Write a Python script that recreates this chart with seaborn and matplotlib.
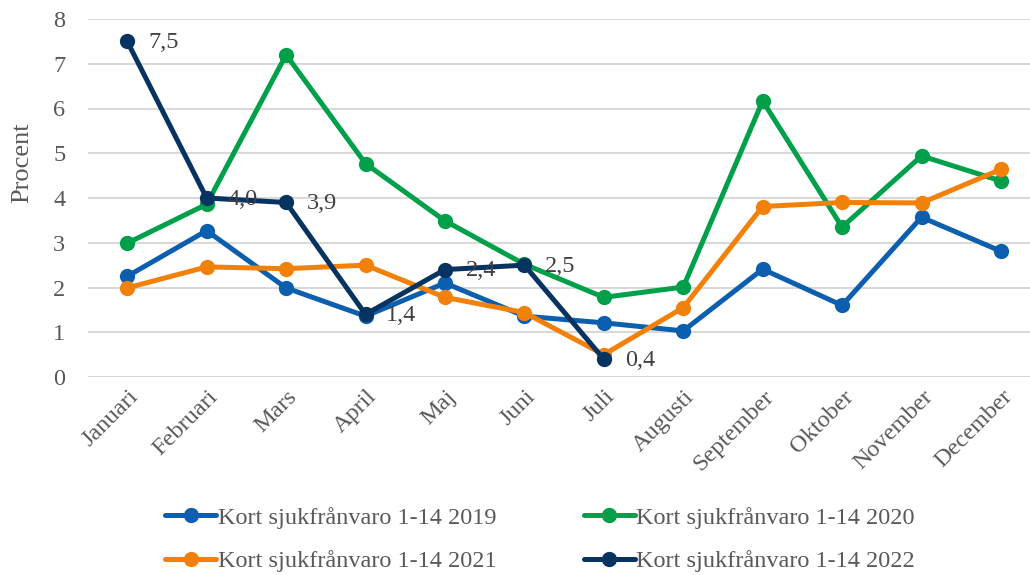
import numpy as np
import pandas as pd
import matplotlib
matplotlib.use("Agg")
import matplotlib.pyplot as plt
import seaborn as sns

months = ["Januari", "Februari", "Mars", "April", "Maj", "Juni", "Juli",
          "Augusti", "September", "Oktober", "November", "December"]
s2019 = [2.25, 3.27, 1.99, 1.36, 2.10, 1.36, 1.21, 1.03, 2.41, 1.60, 3.57, 2.81]
s2020 = [2.99, 3.86, 7.20, 4.77, 3.49, 2.52, 1.78, 2.01, 6.17, 3.35, 4.94, 4.38]
s2021 = [1.99, 2.46, 2.42, 2.50, 1.78, 1.44, 0.50, 1.55, 3.81, 3.90, 3.89, 4.64]
s2022 = [7.5, 4.0, 3.9, 1.4, 2.4, 2.5, 0.4, np.nan, np.nan, np.nan, np.nan, np.nan]
names = ["Kort sjukfrånvaro 1-14 2019", "Kort sjukfrånvaro 1-14 2020",
         "Kort sjukfrånvaro 1-14 2021", "Kort sjukfrånvaro 1-14 2022"]
colors = ["#0B5FAE", "#00A04B", "#F28109", "#06335F"]

sns.set_theme(style="white")
plt.rcParams['font.family'] = ['Liberation Serif', 'DejaVu Serif']

FS = 17.5
fig = plt.figure(figsize=(10.3, 5.75), dpi=100)
ax = fig.add_axes([87.5/1030, 1 - 377/575, 1 - 87.5/1030, (377 - 19)/575])

x = np.arange(len(months))
for name, vals, col in zip(names, [s2019, s2020, s2021, s2022], colors):
    df = pd.DataFrame({"x": x, "y": vals}).dropna()
    sns.lineplot(data=df, x="x", y="y", ax=ax, color=col, lw=3.6,
                 marker="o", markersize=11, markeredgewidth=0, label=name,
                 zorder=3)

# data labels for 2022
for xi, v in zip(x, s2022):
    if not np.isnan(v):
        ax.annotate(f"{v:.1f}".replace(".", ","), (xi, v), xytext=(15, -1),
                    textcoords="offset points", ha="left", va="center",
                    fontsize=FS, color="#404040", zorder=4)

ax.set_xlim(-0.5, (1030 - 127) / 79.45)
ax.set_ylim(0, 8)
ax.set_yticks(range(0, 9))
ax.set_yticklabels([str(i) for i in range(0, 9)])
ax.set_xticks(x)
ax.set_xticklabels(months, rotation=45, ha="right", va="center", rotation_mode="anchor")
ax.tick_params(axis="y", length=0, pad=16, labelsize=FS, labelcolor="#595959")
ax.tick_params(axis="x", length=0, pad=12, labelsize=FS, labelcolor="#595959")
for lab in ax.get_xticklabels():
    lab.set_transform(lab.get_transform() + matplotlib.transforms.ScaledTranslation(8/100, 0, fig.dpi_scale_trans))
ax.yaxis.grid(True, color="#D9D9D9", lw=1.5)
ax.xaxis.grid(False)
for sp in ax.spines.values():
    sp.set_visible(False)
ax.set_xlabel("")
ax.set_ylabel("Procent", fontsize=19, color="#595959")
ax.yaxis.set_label_coords(-0.058, 0.598)

h, l = ax.get_legend_handles_labels()
ax.legend_.remove()
order = [0, 2, 1, 3]
fig.legend([h[i] for i in order], [l[i] for i in order], ncol=2,
           loc="center", bbox_to_anchor=(540/1030, 1 - 539.5/575),
           frameon=False, fontsize=FS, labelcolor="#595959",
           handlelength=2.1, handletextpad=0.05, columnspacing=3.6,
           labelspacing=0.9)

fig.savefig("out.png", dpi=100)
